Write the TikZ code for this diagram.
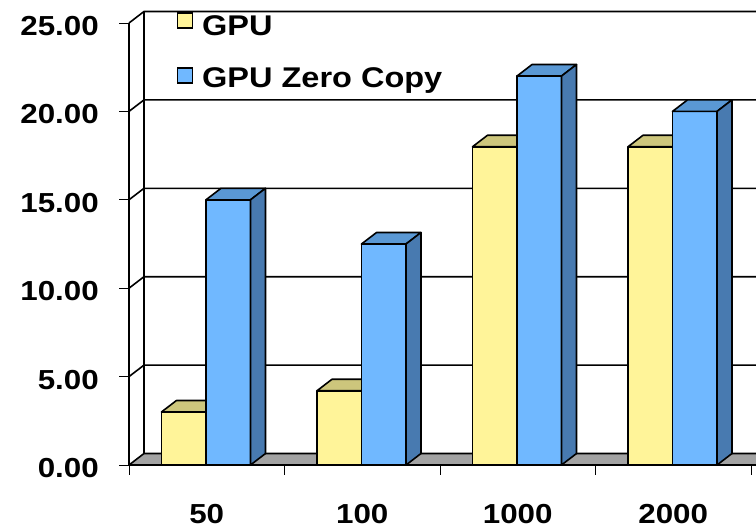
\documentclass[tikz,border=0pt]{standalone}
\usepackage{fontspec}
\setmainfont{Liberation Sans}[FakeStretch=1.14]
\usetikzlibrary{positioning}

\definecolor{gpufront}{RGB}{255,244,153}
\definecolor{gputop}{RGB}{205,198,124}
\definecolor{zcfront}{RGB}{112,184,255}
\definecolor{zctop}{RGB}{90,152,212}
\definecolor{zcside}{RGB}{72,122,176}
\definecolor{floorgray}{RGB}{163,163,163}

\begin{document}
\begin{tikzpicture}[x=1pt,y=-1pt]
	\tikzstyle{face} = [draw=black, line width=1.6pt, line join=round]
	\tikzstyle{grid} = [line width=1.6pt]
	\tikzstyle{tick} = [line width=1pt]
	\tikzstyle{axislabel} = [font=\fontsize{27.5}{30}\selectfont\bfseries, inner sep=0pt]
	\tikzstyle{legendlabel} = [font=\fontsize{28.5}{30}\selectfont\bfseries, inner sep=0pt, anchor=base west]
	\tikzstyle{legendkey} = [draw, line width=1.5pt, minimum size=15pt, inner sep=0pt]

	\clip (0,0) rectangle (756,528);

	% floor and walls
	\fill[floorgray] (129,465) -- (790,465) -- (805,453.5) -- (144,453.5) -- cycle;
	\draw[grid] (129,465) -- (790,465);
	\draw[grid] (129,465) -- (144,453.5) -- (790,453.5);
	\draw[grid] (129,465) -- (129,23);
	\draw[grid] (144,453.5) -- (144,11.5);
	\foreach \v in {5,10,...,25}
		\draw[grid] (129,{465-17.68*\v}) -- (144,{453.5-17.68*\v}) -- (790,{453.5-17.68*\v});

	% ticks and labels
	\foreach \v in {0,5,...,25} {
		\draw[tick] (119,{465-17.68*\v}) -- (129,{465-17.68*\v});
		\node (ylab\v) [axislabel, anchor=east] at (99,{468-17.68*\v}) {\v.00};
	}
	\foreach \i in {0,...,4}
		\draw[tick] ({129+155.5*\i},465) -- ({129+155.5*\i},475);
	\foreach \i/\n in {0/50,1/100,2/1000,3/2000}
		\node (xlab\n) [axislabel, anchor=base] at ({206.75+155.5*\i},523.5) {\n};

	% bars
	\foreach \i/\vy/\vb in {0/3.0/15.0, 1/4.2/12.5, 2/18.0/22.0, 3/18.0/20.0} {
		\pgfmathsetmacro\xa{161.5+155.5*\i}
		\pgfmathsetmacro\xb{\xa+44.5}
		\pgfmathsetmacro\xc{\xb+44.5}
		\pgfmathsetmacro\ty{465-17.68*\vy}
		\pgfmathsetmacro\tb{465-17.68*\vb}
		\draw[face, fill=gpufront] (\xa,465) rectangle (\xb,\ty);
		\draw[face, fill=gputop] (\xa,\ty) -- ++(15,-11.5) -- ({\xb+15},{\ty-11.5}) -- (\xb,\ty) -- cycle;
		\draw[face, fill=zcfront] (\xb,465) rectangle (\xc,\tb);
		\draw[face, fill=zctop] (\xb,\tb) -- ++(15,-11.5) -- ({\xc+15},{\tb-11.5}) -- (\xc,\tb) -- cycle;
		\draw[face, fill=zcside] (\xc,\tb) -- ++(15,-11.5) -- ({\xc+15},453.5) -- (\xc,465) -- cycle;
	}

	% legend
	\node (keygpu) [legendkey, fill=gpufront] at (185,20.5) {};
	\node (txtgpu) [legendlabel] at (202,35) {GPU};
	\node (keyzc) [legendkey, fill=zcfront] at (185,75.5) {};
	\node (txtzc) [legendlabel] at (202,87.5) {GPU Zero Copy};
\end{tikzpicture}
\end{document}
